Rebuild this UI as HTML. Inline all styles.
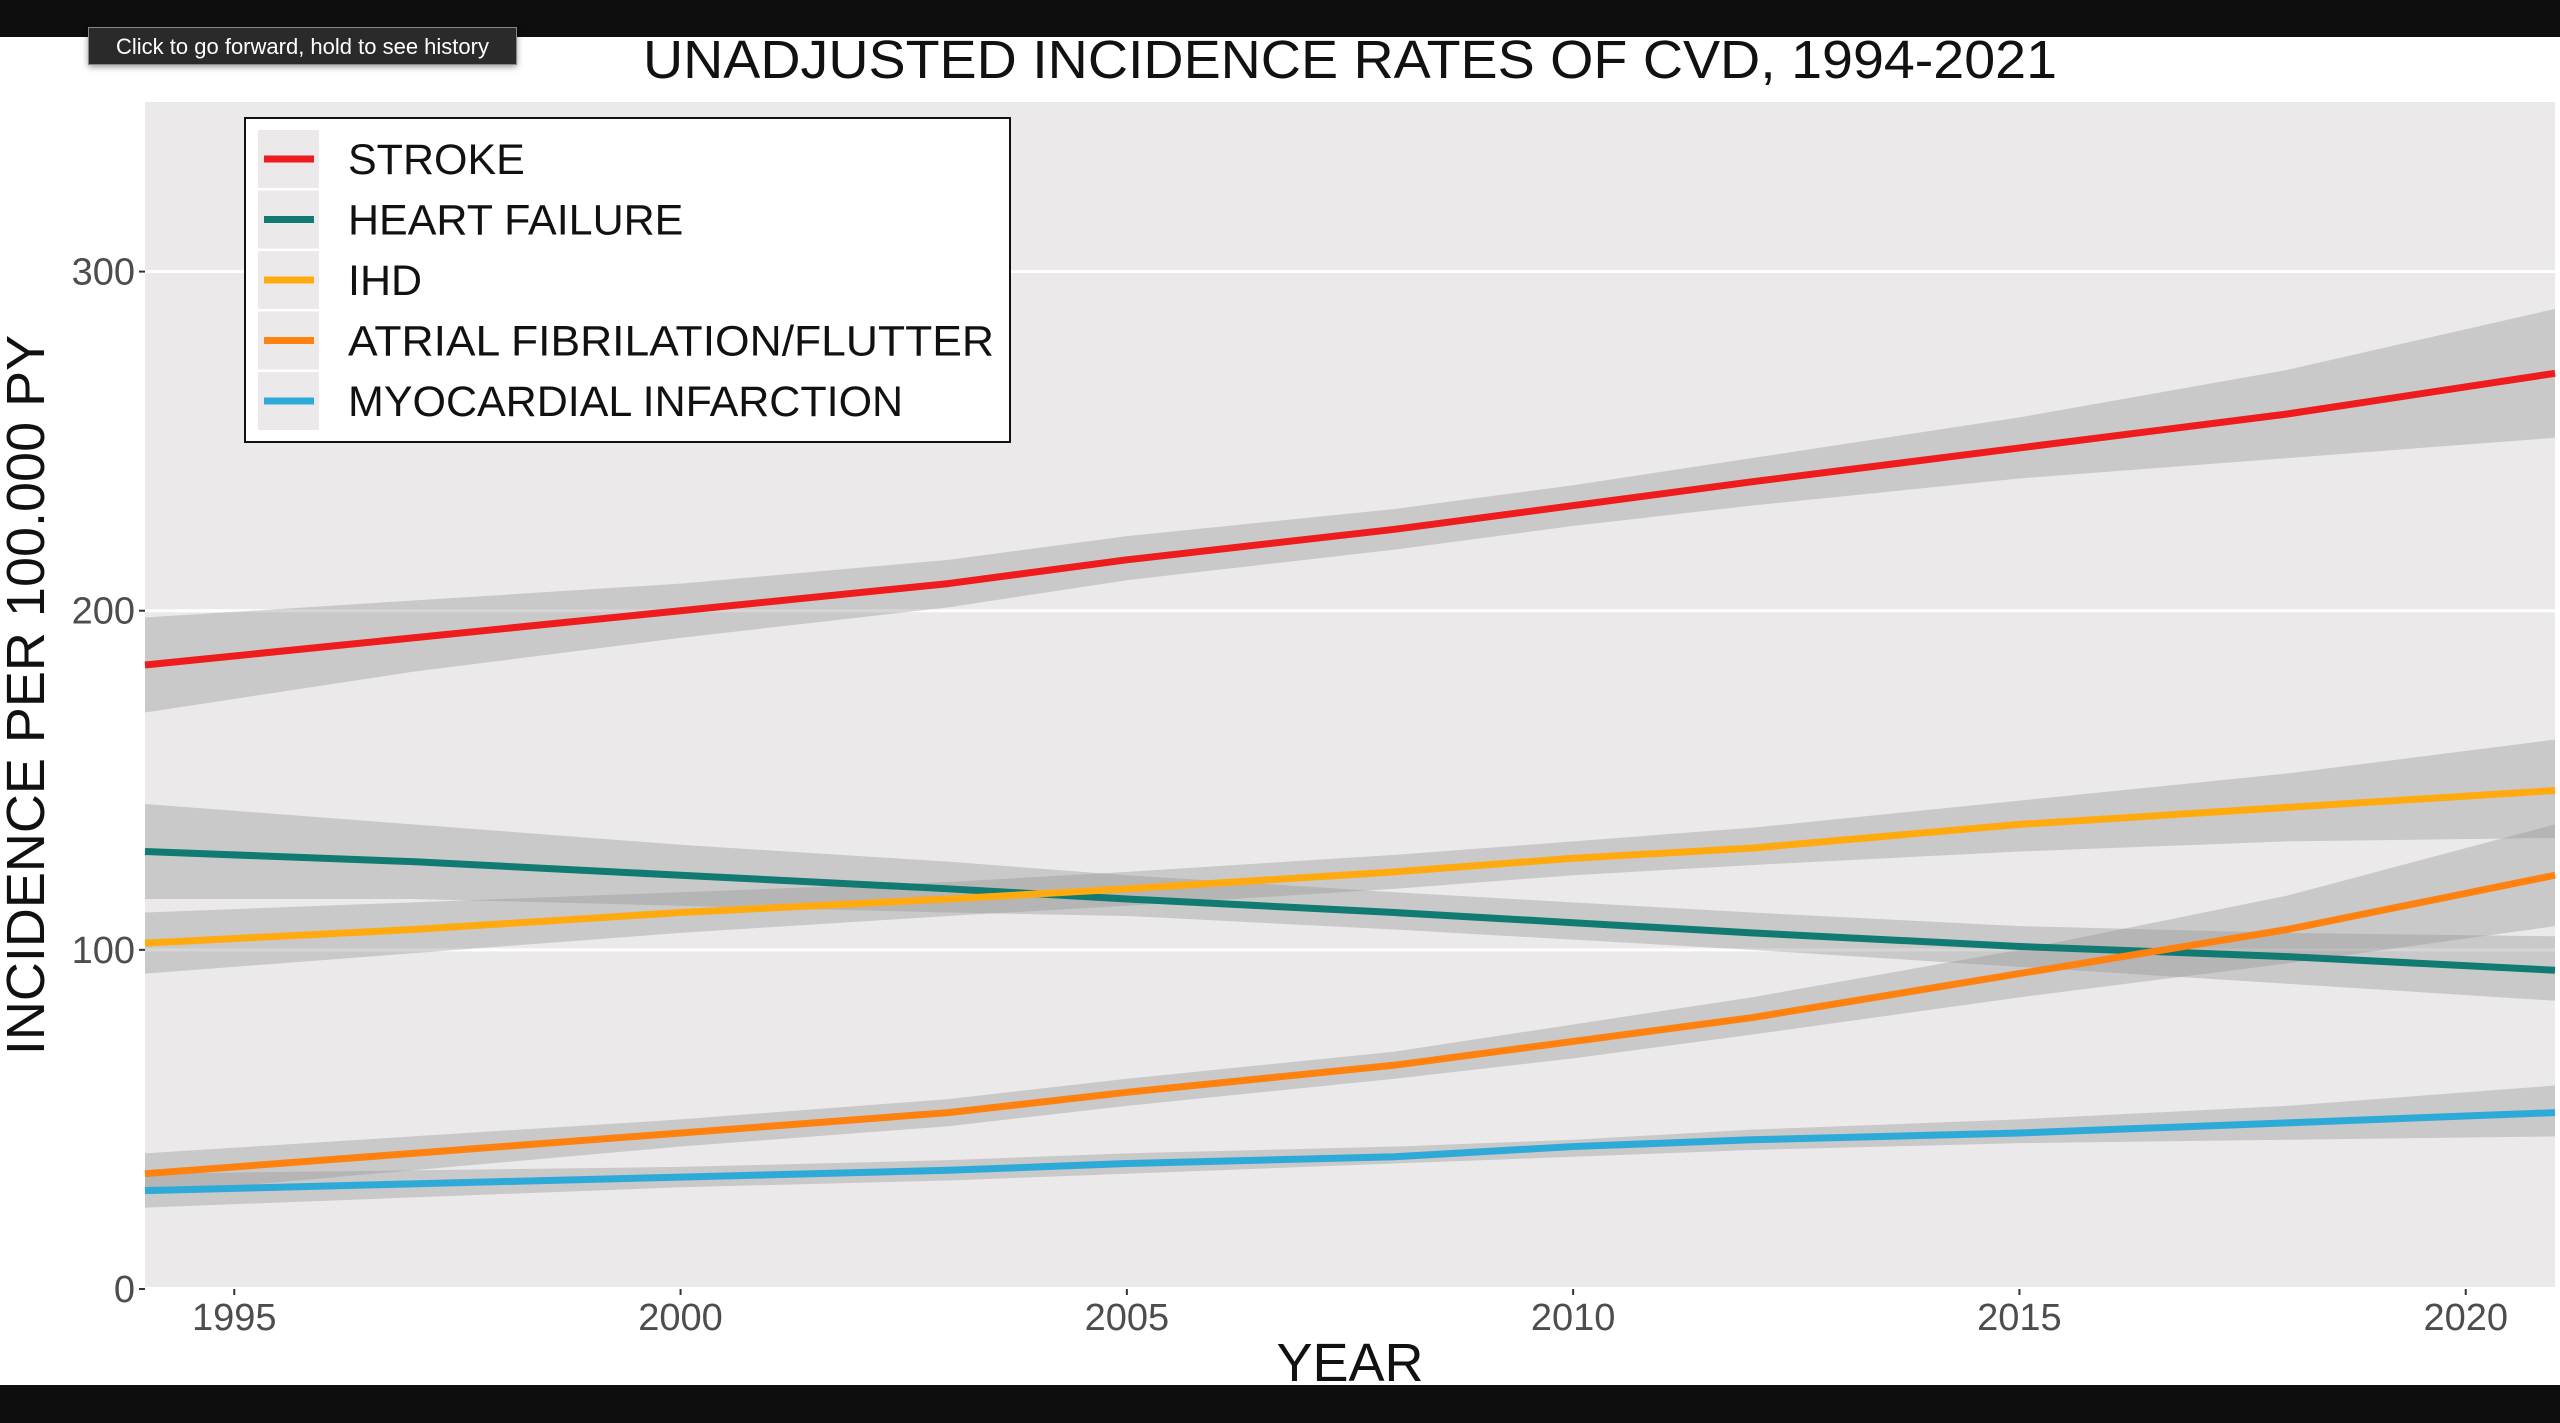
<!DOCTYPE html>
<html><head><meta charset="utf-8"><style>
html,body{margin:0;padding:0;background:#fff;}
body{width:2560px;height:1423px;position:relative;overflow:hidden;font-family:"Liberation Sans",sans-serif;}
</style></head><body>
<div style="position:absolute;left:0;top:0;width:2560px;height:37px;background:#0e0e0e"></div>
<div style="position:absolute;left:0;top:1385px;width:2560px;height:38px;background:#0e0e0e"></div>
<svg id="chart" width="2560" height="1423" style="position:absolute;left:0;top:0" xmlns="http://www.w3.org/2000/svg"></svg>
<div style="position:absolute;left:88px;top:27px;width:429px;height:38px;background:#2a2a2a;border:1px solid #888;box-shadow:0 2px 6px rgba(0,0,0,.4);color:#fff;font-size:22px;line-height:38px;text-align:center;box-sizing:border-box">Click to go forward, hold to see history</div>
<script>
const years=[1994,1997,2000,2003,2005,2008,2010,2012,2015,2018,2021];
const strokeMid=[184,192,200,208,215,224,231,238,248,258,270];
const strokeLo=[170,182,192,201,209,218,225,231,239,245,251];
const strokeHi=[198,203,208,215,222,230,237,245,257,271,289];
const hfMid=[129,126,122,118,115,111,108,105,101,98,94];
const hfLo=[115,115,113,111,110,106,103,100,95,90,85];
const hfHi=[143,137,131,126,122,117,114,111,107,105,104];
const ihdMid=[102,106,111,115,118,123,127,130,137,142,147];
const ihdLo=[93,99,105,110,113,118,122,125,129,132,133];
const ihdHi=[111,114,117,120,123,128,132,136,144,152,162];
const afMid=[34,40,46,52,58,66,73,80,93,106,122];
const afLo=[28,35,42,48,54,62,68,75,86,96,107];
const afHi=[40,45,50,56,62,70,78,86,100,116,137];
const miMid=[29,31,33,35,37,39,42,44,46,49,52];
const miLo=[24,27,30,32,34,37,39,41,43,44,45];
const miHi=[34,35,36,38,40,42,44,47,50,54,60];
const seriesNames=["STROKE","HEART FAILURE","IHD","ATRIAL FIBRILATION/FLUTTER","MYOCARDIAL INFARCTION"];
const seriesColors=["#ee1c1c","#117a72","#ffab0f","#ff8210","#2eaad8"];
const yTicks=[0,100,200,300];
const xTicks=[1995,2000,2005,2010,2015,2020];

const NS="http://www.w3.org/2000/svg";
const svg=document.getElementById('chart');
const L=145,R=2555,T=102,B=1289;
const x=v=>L+(v-1994)/(2021-1994)*(R-L);
const y=v=>B-v/350*(B-T);
function mk(t,a,p){const e=document.createElementNS(NS,t);for(const k in a)e.setAttribute(k,a[k]);(p||svg).appendChild(e);return e;}

const panel=mk('rect',{x:L,y:T,width:R-L,height:1287-T,fill:'#ebe9ea'});


yTicks.forEach(t=>{
  if(t>0){const g=mk('line',{x1:L,x2:R,y1:y(t),y2:y(t),stroke:'#fff','stroke-width':3});
  
  }
  const tk=mk('line',{x1:L-6,x2:L,y1:y(t),y2:y(t),stroke:'#333','stroke-width':2});
  
  
  const tx=mk('text',{x:L-10,y:y(t)+13,'text-anchor':'end','font-size':38,fill:'#4d4d4d'});
  tx.textContent=t;
  
  
});
xTicks.forEach(t=>{
  const tk=mk('line',{x1:x(t),x2:x(t),y1:1289,y2:1295,stroke:'#333','stroke-width':2});
  
  
  const tx=mk('text',{x:x(t),y:1330,'text-anchor':'middle','font-size':38,fill:'#4d4d4d'});
  tx.textContent=t;
  
  
});
const data=[[strokeMid,strokeLo,strokeHi],[hfMid,hfLo,hfHi],[ihdMid,ihdLo,ihdHi],[afMid,afLo,afHi],[miMid,miLo,miHi]];
data.forEach((d,i)=>{
  const up=years.map((yr,j)=>x(yr)+','+y(d[2][j]));
  const lo=years.map((yr,j)=>x(yr)+','+y(d[1][j])).reverse();
  const b=mk('polygon',{points:up.concat(lo).join(' '),fill:'#999','fill-opacity':0.4});
  
  
});
data.forEach((d,i)=>{
  const l=mk('polyline',{points:years.map((yr,j)=>x(yr)+','+y(d[0][j])).join(' '),fill:'none',stroke:seriesColors[i],'stroke-width':7,'stroke-linejoin':'round'});
  
  
});
const lg=mk('g',{});


mk('rect',{x:245,y:118,width:765,height:324,fill:'#fff',stroke:'#111','stroke-width':2},lg);
seriesNames.forEach((n,i)=>{
  const cy=159+i*60.5;
  const e=mk('g',{},lg);
  
  
  mk('rect',{x:258,y:cy-29,width:61,height:58,fill:'#ebe9ea'},e);
  mk('line',{x1:264,x2:314,y1:cy,y2:cy,stroke:seriesColors[i],'stroke-width':7},e);
  const t=mk('text',{x:348,y:cy+15,'font-size':43,fill:'#111'},e);
  t.textContent=n;
  if(i===3){t.setAttribute('textLength',646);t.setAttribute('lengthAdjust','spacingAndGlyphs');}
});
const title=mk('text',{x:1350,y:78,'text-anchor':'middle','font-size':54,fill:'#111',textLength:1414,lengthAdjust:'spacingAndGlyphs'});
title.textContent='UNADJUSTED INCIDENCE RATES OF CVD, 1994-2021';


const xt=mk('text',{x:1350,y:1381,'text-anchor':'middle','font-size':54,fill:'#111'});
xt.textContent='YEAR';


const yt=mk('text',{x:0,y:0,'text-anchor':'middle','font-size':54,fill:'#111',transform:'translate(44,695) rotate(-90)'});
yt.textContent='INCIDENCE PER 100.000 PY';


</script>
</body></html>
